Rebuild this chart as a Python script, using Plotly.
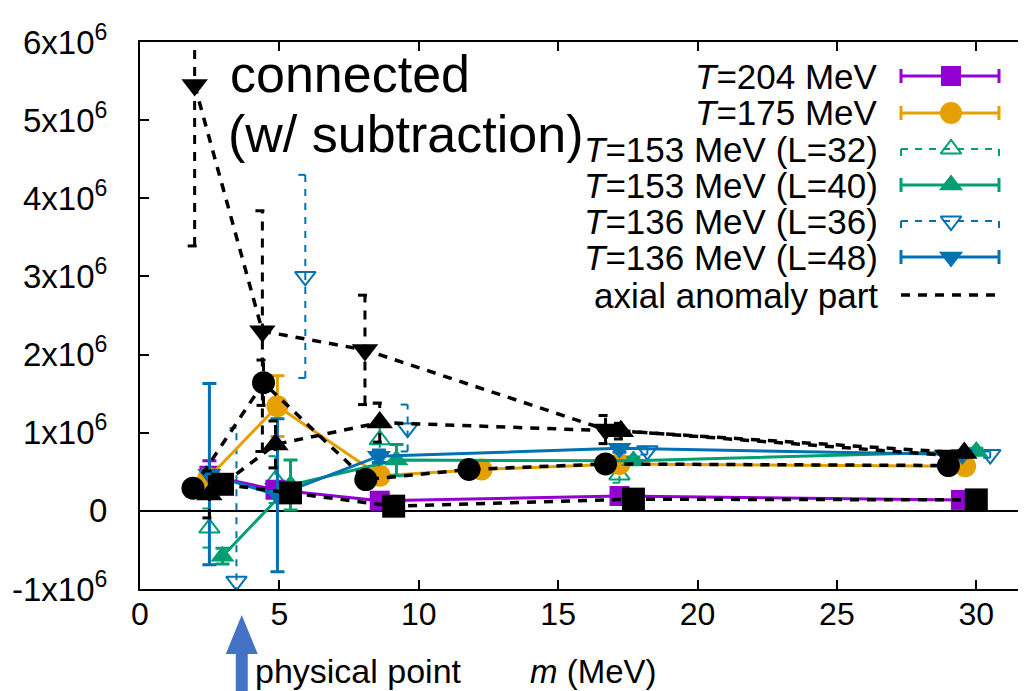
import plotly.graph_objects as go

SCALE = 1e6

# ---------------- data (values in units of 10^6) ----------------
# T=204 MeV (purple squares)
m_204 = [2.49, 4.86, 8.6, 17.2, 29.45]
v_204 = [0.45, 0.27, 0.13, 0.19, 0.14]
e_204 = [0.19, 0.10, 0.08, 0.05, 0.03]

# T=175 MeV (orange circles)
m_175 = [2.45, 4.93, 8.6, 12.25, 17.2, 29.6]
v_175 = [0.42, 1.34, 0.45, 0.53, 0.60, 0.57]
e_175 = [0.10, 0.39, 0.10, 0.04, 0.04, 0.03]

# T=153 MeV (L=32) open up-triangles
m_153_32 = [2.49, 4.86, 8.6, 17.2, 29.5]
v_153_32 = [-0.22, 0.40, 0.91, 0.46, 0.70]
e_153_32 = [0.25, 0.30, 0.46, 0.10, 0.05]

# T=153 MeV (L=40) filled up-triangles
m_153_40 = [2.96, 5.4, 9.2, 17.7, 30.0]
v_153_40 = [-0.58, 0.33, 0.65, 0.64, 0.76]
e_153_40 = [0.10, 0.32, 0.20, 0.05, 0.04]

# T=136 MeV (L=36) open down-triangles
m_136_36 = [3.46, 5.93, 9.6, 18.2, 30.5]
v_136_36 = [-0.90, 3.00, 1.06, 0.77, 0.72]
e_136_36 = [1.96, 1.30, 0.30, 0.05, 0.04]

# T=136 MeV (L=48) filled down-triangles
m_136_48 = [2.49, 4.93, 8.57, 17.2, 29.5]
v_136_48 = [0.47, 0.20, 0.70, 0.80, 0.72]
e_136_48 = [1.16, 0.98, 0.08, 0.05, 0.04]

# axial anomaly part (black, dashed)
m_ax_sq = [2.96, 5.4, 9.1, 17.7, 30.0]
v_ax_sq = [0.34, 0.23, 0.06, 0.15, 0.14]
e_ax_sq = [0.05, 0.05, 0.05, 0.05, 0.03]

m_ax_ci = [1.9, 4.43, 8.1, 11.8, 16.7, 29.0]
v_ax_ci = [0.29, 1.64, 0.40, 0.53, 0.60, 0.58]
e_ax_ci = [0.10, 0.29, 0.05, 0.03, 0.03, 0.02]

m_ax_up = [2.49, 4.86, 8.6, 17.25, 29.57]
v_ax_up = [0.21, 0.85, 1.13, 1.02, 0.74]
e_ax_up = [0.30, 0.30, 0.25, 0.10, 0.03]

m_ax_dn = [1.96, 4.39, 8.07, 16.7, 28.96]
v_ax_dn = [5.45, 2.30, 2.06, 1.04, 0.71]
e_ax_dn = [2.06, 1.54, 0.70, 0.18, 0.03]

PHYSICAL_M = 3.65

x_ticks = [0, 5, 10, 15, 20, 25, 30]
y_tick_vals = [-1, 0, 1, 2, 3, 4, 5, 6]
y_tick_text = ["-1x10<sup>6</sup>", "0", "1x10<sup>6</sup>", "2x10<sup>6</sup>",
               "3x10<sup>6</sup>", "4x10<sup>6</sup>", "5x10<sup>6</sup>", "6x10<sup>6</sup>"]

legend_labels = ["<i>T</i>=204 MeV", "<i>T</i>=175 MeV", "<i>T</i>=153 MeV (L=32)",
                 "<i>T</i>=153 MeV (L=40)", "<i>T</i>=136 MeV (L=36)",
                 "<i>T</i>=136 MeV (L=48)", "axial anomaly part"]

# ---------------- style ----------------
PURPLE = "#9400D3"
ORANGE = "#E69F00"
GREEN = "#009E73"
BLUE = "#0072B2"
BLACK = "#000000"
FONT = "Liberation Sans, Arial, Helvetica, sans-serif"
XR = [0, 32.07]
YR = [-1, 6]
CAP = 0.25          # half-width of dashed error-bar caps, x units
DASH_BLACK = "9px,8px"
DASH_ERR = "7px,7px"

W, H = 1026, 691
ML, MR, MT, MB = 132, 0, 34, 110
PW, PH = W - ML - MR, H - MT - MB


def sc(vals):
    return [v * SCALE for v in vals]


def err_segments(m, v, e, cap=CAP):
    xs, ys = [], []
    for mi, vi, ei in zip(m, v, e):
        lo, hi = (vi - ei) * SCALE, (vi + ei) * SCALE
        xs += [mi, mi, None, mi - cap, mi + cap, None, mi - cap, mi + cap, None]
        ys += [lo, hi, None, lo, lo, None, hi, hi, None]
    return xs, ys


def px2paper_x(px):
    return (px - ML) / PW


def px2paper_y(py):
    return (H - MB - py) / PH


fig = go.Figure()

solid = [
    (m_204, v_204, e_204, PURPLE, "square", 20),
    (m_175, v_175, e_175, ORANGE, "circle", 22),
    (m_153_40, v_153_40, e_153_40, GREEN, "triangle-up", 21),
    (m_136_48, v_136_48, e_136_48, BLUE, "triangle-down", 21),
]
open_series = [
    (m_153_32, v_153_32, e_153_32, GREEN, "triangle-up-open", 18),
    (m_136_36, v_136_36, e_136_36, BLUE, "triangle-down-open", 18),
]

for m, v, e, c, sym, sz in open_series:
    xs, ys = err_segments(m, v, e)
    fig.add_trace(go.Scatter(x=xs, y=ys, mode="lines",
                             line=dict(color=c, width=2, dash=DASH_ERR),
                             hoverinfo="skip", showlegend=False))
    fig.add_trace(go.Scatter(x=m, y=sc(v), mode="markers",
                             marker=dict(symbol=sym, size=sz, color=c, line=dict(color=c, width=2)),
                             showlegend=False))

for m, v, e, c, sym, sz in solid:
    fig.add_trace(go.Scatter(
        x=m, y=sc(v), mode="lines+markers",
        line=dict(color=c, width=3),
        marker=dict(symbol=sym, size=sz, color=c, line=dict(width=0)),
        error_y=dict(type="data", array=sc(e), color=c, thickness=3, width=7),
        showlegend=False))

black_sets = [
    (m_ax_sq, v_ax_sq, e_ax_sq, "square", 23),
    (m_ax_ci, v_ax_ci, e_ax_ci, "circle", 23),
    (m_ax_up, v_ax_up, e_ax_up, "triangle-up", 23),
    (m_ax_dn, v_ax_dn, e_ax_dn, "triangle-down", 23),
]
for m, v, e, sym, sz in black_sets:
    xs, ys = err_segments(m, v, e)
    fig.add_trace(go.Scatter(x=xs, y=ys, mode="lines",
                             line=dict(color=BLACK, width=3, dash=DASH_BLACK),
                             hoverinfo="skip", showlegend=False))
    fig.add_trace(go.Scatter(x=m, y=sc(v), mode="lines+markers",
                             line=dict(color=BLACK, width=3.5, dash=DASH_BLACK),
                             marker=dict(symbol=sym, size=sz, color=BLACK, line=dict(width=0)),
                             showlegend=False))

# right-side ticks axis (dummy trace)
fig.add_trace(go.Scatter(x=[None], y=[None], xaxis="x", yaxis="y3", showlegend=False))

# ---------------- manual legend (gnuplot style: text left, sample right) ----------------
leg_rows_px = [68, 105, 141, 177, 213, 249, 287]
leg_text_right_px = 872
leg_x0_px, leg_x1_px, leg_xm_px = 893, 991, 943
leg_styles = [
    (PURPLE, "square", 20, "solid", True),
    (ORANGE, "circle", 22, "solid", True),
    (GREEN, "triangle-up-open", 18, "dashed", True),
    (GREEN, "triangle-up", 21, "solid", True),
    (BLUE, "triangle-down-open", 18, "dashed", True),
    (BLUE, "triangle-down", 21, "solid", True),
    (BLACK, None, 0, "black", False),
]
cap_h = 7 / PH
for lab, ypx, (c, sym, sz, kind, caps) in zip(legend_labels, leg_rows_px, leg_styles):
    yp = px2paper_y(ypx)
    x0, x1, xm = px2paper_x(leg_x0_px), px2paper_x(leg_x1_px), px2paper_x(leg_xm_px)
    fig.add_annotation(x=px2paper_x(leg_text_right_px), y=yp, xref="paper", yref="paper",
                       text=lab, showarrow=False, xanchor="right", yanchor="middle",
                       font=dict(family=FONT, size=35, color="black"))
    if kind == "solid":
        ln = dict(color=c, width=3)
    elif kind == "dashed":
        ln = dict(color=c, width=2, dash=DASH_ERR)
    else:
        ln = dict(color=BLACK, width=3.5, dash=DASH_BLACK)
    xs = [x0, x1]
    ys = [yp, yp]
    if caps:
        xs += [None, x0, x0, None, x1, x1]
        ys += [None, yp - cap_h, yp + cap_h, None, yp - cap_h, yp + cap_h]
    fig.add_trace(go.Scatter(x=xs, y=ys, mode="lines", line=ln, xaxis="x2", yaxis="y2",
                             hoverinfo="skip", showlegend=False))
    if sym:
        fig.add_trace(go.Scatter(x=[xm], y=[yp], mode="markers", xaxis="x2", yaxis="y2",
                                 marker=dict(symbol=sym, size=sz, color=c,
                                             line=dict(color=c, width=2 if "open" in sym else 0)),
                                 hoverinfo="skip", showlegend=False))

# ---------------- text ----------------
fig.add_annotation(x=px2paper_x(220), y=px2paper_y(66), xref="paper", yref="paper",
                   text="connected", showarrow=False, xanchor="left", yanchor="middle",
                   font=dict(family=FONT, size=52, color="black"))
fig.add_annotation(x=px2paper_x(218), y=px2paper_y(126), xref="paper", yref="paper",
                   text="(w/ subtraction)", showarrow=False, xanchor="left", yanchor="middle",
                   font=dict(family=FONT, size=52, color="black"))
fig.add_annotation(x=px2paper_x(245), y=px2paper_y(663), xref="paper", yref="paper",
                   text="physical point", showarrow=False, xanchor="left", yanchor="middle",
                   font=dict(family=FONT, size=34, color="black"))
fig.add_annotation(x=px2paper_x(520), y=px2paper_y(663), xref="paper", yref="paper",
                   text="<i>m</i> (MeV)", showarrow=False, xanchor="left", yanchor="middle",
                   font=dict(family=FONT, size=33, color="black"))

# physical-point arrow
ARROW = "#4472C4"
ax_p = (PHYSICAL_M - XR[0]) / (XR[1] - XR[0])
shaft_hw = 6 / PW
head_hw = 16 / PW
tip, base, bottom = px2paper_y(607), px2paper_y(646), px2paper_y(691)
fig.add_shape(type="path", xref="paper", yref="paper",
              path=(f"M {ax_p - shaft_hw} {bottom} L {ax_p - shaft_hw} {base} L {ax_p - head_hw} {base} "
                    f"L {ax_p} {tip} L {ax_p + head_hw} {base} L {ax_p + shaft_hw} {base} "
                    f"L {ax_p + shaft_hw} {bottom} Z"),
              fillcolor=ARROW, line=dict(width=0))

fig.update_layout(
    width=W, height=H,
    margin=dict(l=ML, r=MR, t=MT, b=MB),
    paper_bgcolor="white", plot_bgcolor="white",
    showlegend=False,
    font=dict(family=FONT, size=28, color="black"),
    xaxis=dict(range=XR, tickvals=x_ticks, ticks="inside", ticklen=9, tickwidth=1.5,
               tickcolor="black", showline=True, linecolor="black", linewidth=2,
               mirror="ticks", showgrid=False, zeroline=False,
               tickfont=dict(family=FONT, size=32), ticklabelstandoff=-4),
    yaxis=dict(range=[YR[0] * SCALE, YR[1] * SCALE], tickvals=[t * SCALE for t in y_tick_vals],
               ticktext=y_tick_text, ticks="inside", ticklen=9, tickwidth=1.5,
               tickcolor="black", showline=True, linecolor="black", linewidth=2,
               showgrid=False, zeroline=True, zerolinecolor="black", zerolinewidth=2,
               tickfont=dict(family=FONT, size=33), ticklabelstandoff=24),
    yaxis3=dict(range=[YR[0] * SCALE, YR[1] * SCALE], tickvals=[t * SCALE for t in y_tick_vals],
                overlaying="y", side="right", anchor="x", ticks="inside", ticklen=9,
                tickwidth=1.5, tickcolor="black", showticklabels=False, showline=False,
                showgrid=False, zeroline=False),
    xaxis2=dict(range=[0, 1], overlaying="x", visible=False, anchor="y2"),
    yaxis2=dict(range=[0, 1], overlaying="y", visible=False, anchor="x2"),
)

fig.write_html("out.html")
